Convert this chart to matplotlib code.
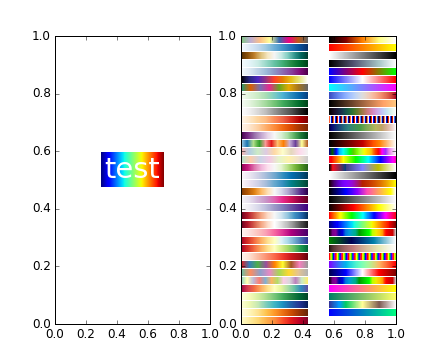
import numpy as np
import matplotlib
matplotlib.use('Agg')
import matplotlib.pyplot as plt
from matplotlib.colors import ListedColormap, LinearSegmentedColormap

plt.style.use('classic')

# colormaps shown in the right panel, two columns
left_cmaps = ['Accent', 'Blues', 'BrBG', 'BuGn', 'BuPu', 'CMRmap', 'Dark2',
              'GnBu', 'Greens', 'Greys', 'OrRd', 'Oranges', 'PRGn', 'Paired',
              'Pastel1', 'Pastel2', 'PiYG', 'PuBu', 'PuBuGn', 'PuOr', 'PuRd',
              'Purples', 'RdBu', 'RdGy', 'RdPu', 'RdYlBu', 'RdYlGn', 'Reds',
              'Set1', 'Set2', 'Set3', 'Spectral', 'YlGn', 'YlGnBu', 'YlOrBr',
              'YlOrRd']
right_cmaps = ['afmhot', 'autumn', 'binary', 'bone', 'brg', 'bwr', 'cool',
               'coolwarm', 'copper', 'cubehelix', 'flag', 'gist_earth',
               'gist_gray', 'gist_heat', 'gist_ncar', 'gist_rainbow',
               'gist_stern', 'gist_yarg', 'gnuplot', 'gnuplot2', 'gray', 'hot',
               'hsv', 'jet', 'nipy_spectral', 'ocean', 'pink', 'prism',
               'rainbow', 'seismic', 'nipy_spectral', 'spring', 'summer',
               'terrain', 'winter']
label_text = 'test'
label_cmap = 'jet'


def get_cmap(name):
    cmap = plt.get_cmap(name)
    # qualitative maps were blended in the old version
    if isinstance(cmap, ListedColormap) and cmap.N < 256:
        cmap = LinearSegmentedColormap.from_list(name + '_smooth', cmap.colors)
    return cmap


gradient = np.linspace(0, 1, 256).reshape(1, -1)

fig, (ax1, ax2) = plt.subplots(1, 2, figsize=(440 / 72, 360 / 72), dpi=72)
fig.patch.set_facecolor('white')

# left: text on a gradient box
ax1.imshow(gradient, cmap=label_cmap, aspect='auto',
           extent=(0.297, 0.703, 0.476, 0.597), zorder=1)
ax1.text(0.5, 0.535, label_text, color='white', fontsize=29,
         ha='center', va='center', zorder=2)
ax1.set_xlim(0, 1)
ax1.set_ylim(0, 1)

# right: colormap strips
bar_h = 0.023
pitch = (1 - bar_h) / 35
for col, (x0, x1) in zip([left_cmaps, right_cmaps], [(0, 0.43), (0.57, 1.0)]):
    for i, name in enumerate(col):
        top = 1 - i * pitch
        ax2.imshow(gradient, cmap=get_cmap(name), aspect='auto',
                   interpolation='nearest',
                   extent=(x0, x1, top - bar_h, top), zorder=1)
ax2.set_xlim(0, 1)
ax2.set_ylim(0, 1)

fig.savefig('out.png', dpi=72, facecolor='white')
